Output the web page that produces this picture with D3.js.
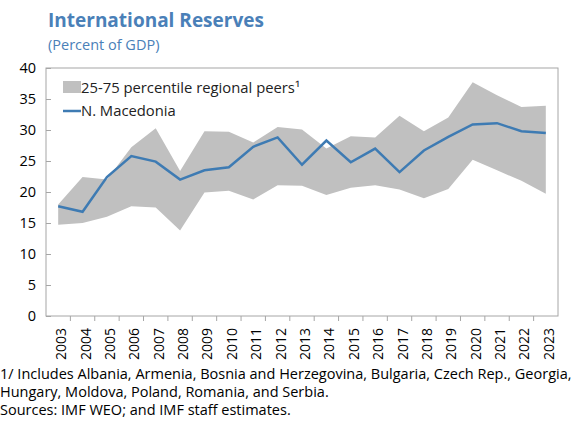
<!DOCTYPE html>
<html>
<head>
<meta charset="utf-8">
<script src="https://cdn.jsdelivr.net/npm/d3@7"></script>
<style>
  body { margin: 0; background: #fff; }
  svg { display: block; font-family: "Open Sans", "Noto Sans", sans-serif; }
</style>
</head>
<body>
<div id="chart"></div>
<script>
// International Reserves chart (D3)

const years = d3.range(2003, 2024).map(String);
const macedonia = [17.7, 16.8, 22.4, 25.8, 24.9, 22.0, 23.5, 24.0, 27.3, 28.8, 24.4,
                   28.3, 24.8, 27.0, 23.2, 26.7, 28.9, 30.9, 31.1, 29.8, 29.5];
const peersP75 = [18.0, 22.4, 22.0, 27.2, 30.3, 23.4, 29.8, 29.7, 28.0, 30.5, 30.1,
                  27.0, 29.0, 28.8, 32.3, 29.8, 32.0, 37.7, 35.6, 33.7, 33.9];
const peersP25 = [14.7, 15.0, 16.0, 17.7, 17.5, 13.8, 19.9, 20.2, 18.8, 21.1, 21.0,
                  19.5, 20.7, 21.1, 20.4, 19.0, 20.5, 25.2, 23.5, 21.8, 19.7];
const yTicks = [0, 5, 10, 15, 20, 25, 30, 35, 40];
const notes = [
  "1/ Includes Albania, Armenia, Bosnia and Herzegovina, Bulgaria, Czech Rep., Georgia,",
  "Hungary, Moldova, Poland, Romania, and Serbia.",
  "Sources: IMF WEO; and IMF staff estimates."
];

const width = 573, height = 423;
const margin = { top: 68, right: 15, bottom: 107, left: 46 };
const blue = '#3e7bb3';

const svg = d3.select('#chart').append('svg')
  .attr('width', width)
  .attr('height', height);

const x = d3.scaleBand().domain(years).range([margin.left, width - margin.right]);
const y = d3.scaleLinear().domain([0, 40]).range([height - margin.bottom, margin.top]);
const cx = d => x(d) + x.bandwidth() / 2;

// titles
svg.append('text')
  .attr('x', 48).attr('y', 27)
  .attr('font-size', '19px').attr('font-weight', 'bold')
  .attr('fill', '#4a80b8')
  .text('International Reserves');
svg.append('text')
  .attr('x', 48).attr('y', 50)
  .attr('font-size', '14.5px')
  .attr('fill', '#4a80b8')
  .text('(Percent of GDP)');

// band
const area = d3.area()
  .x((d, i) => cx(years[i]))
  .y0((d, i) => y(peersP25[i]))
  .y1(d => y(d));
svg.append('path')
  .datum(peersP75)
  .attr('fill', '#c0c0c0')
  .attr('d', area);

// frame
svg.append('rect')
  .attr('x', margin.left).attr('y', margin.top)
  .attr('width', width - margin.right - margin.left)
  .attr('height', height - margin.bottom - margin.top)
  .attr('fill', 'none')
  .attr('stroke', '#a6a6a6');

// y axis
const yAxis = svg.append('g')
  .attr('transform', `translate(${margin.left},0)`)
  .call(d3.axisLeft(y).tickValues(yTicks).tickSize(5).tickPadding(8));
yAxis.select('.domain').remove();
yAxis.selectAll('line').attr('stroke', '#a6a6a6').attr('x1', 0).attr('x2', 5);
yAxis.selectAll('text')
  .attr('font-size', '14.5px').attr('fill', '#000')
  .attr('font-family', '"Open Sans", sans-serif')
  .attr('x', -10);

// x axis: ticks at category boundaries
const xg = svg.append('g')
  .attr('transform', `translate(0,${y(0)})`);
xg.selectAll('line')
  .data(years.slice(1))
  .enter().append('line')
  .attr('x1', d => x(d)).attr('x2', d => x(d))
  .attr('y1', 0).attr('y2', 5)
  .attr('stroke', '#a6a6a6');
xg.selectAll('text')
  .data(years)
  .enter().append('text')
  .attr('transform', d => `translate(${cx(d) + 8},12) rotate(-90)`)
  .attr('text-anchor', 'end')
  .attr('font-size', '14px')
  .text(d => d);

// line
const line = d3.line()
  .x((d, i) => cx(years[i]))
  .y(d => y(d));
svg.append('path')
  .datum(macedonia)
  .attr('fill', 'none')
  .attr('stroke', blue)
  .attr('stroke-width', 2.5)
  .attr('d', line);

// legend
const lg = svg.append('g').attr('font-size', '14.8px').attr('fill', '#222');
lg.append('rect')
  .attr('x', 63).attr('y', 81).attr('width', 18).attr('height', 12)
  .attr('fill', '#c0c0c0');
lg.append('text').attr('x', 81).attr('y', 93).text('25-75 percentile regional peers¹');
lg.append('line')
  .attr('x1', 63).attr('x2', 81).attr('y1', 111).attr('y2', 111)
  .attr('stroke', blue).attr('stroke-width', 2.5);
lg.append('text').attr('x', 81).attr('y', 116).text('N. Macedonia');

// notes
svg.append('g').selectAll('text')
  .data(notes)
  .enter().append('text')
  .attr('x', 0)
  .attr('y', (d, i) => 379 + i * 18)
  .attr('font-size', '14.5px')
  .text(d => d);
</script>
</body>
</html>
